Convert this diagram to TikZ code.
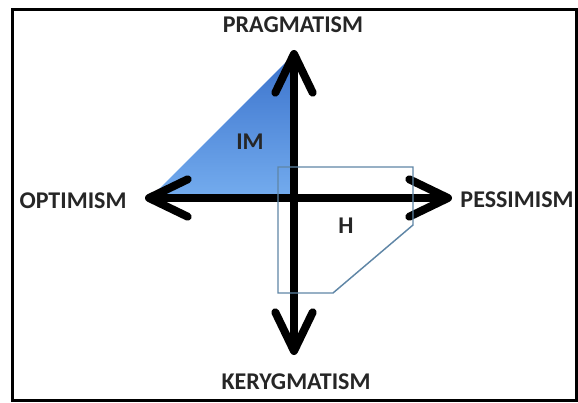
\documentclass[tikz,border=0pt]{standalone}
\usepackage{fontspec}
\setmainfont{Carlito}
\usetikzlibrary{arrows.meta}
\definecolor{imtop}{HTML}{3A72CC}
\definecolor{imbot}{HTML}{74ACEE}
\definecolor{hline}{HTML}{5F86A6}
\begin{document}
\begin{tikzpicture}[x=0.75pt,y=-0.75pt,
  axis/.style={line width=6pt,{Straight Barb[length=29pt,width=28pt,round]}-{Straight Barb[length=29pt,width=28pt,round]}},
  pole/.style={font=\fontsize{18}{20}\selectfont\bfseries,text=black!85,inner sep=0pt},
  zone/.style={font=\fontsize{18}{20}\selectfont\bfseries,text=black!85,inner sep=0pt}]
\useasboundingbox (0,0) rectangle (578,403);
\draw[line width=2.25pt] (12,10) rectangle (576,400);

\coordinate (up) at (294,50);
\coordinate (down) at (294,355);
\coordinate (left) at (145,198);
\coordinate (right) at (452,198);
\coordinate (ctr) at (294,198);

\shade[top color=imtop,bottom color=imbot] (150,198) -- (294,54) -- (ctr) -- cycle;

\draw[axis] (up) -- (down);
\draw[axis] (left) -- (right);

\draw[hline,line width=1.1pt] (278,167) -- (413,167) -- (413,225) -- (333,293) -- (278,293) -- cycle;

\node[pole] (prag) at (293,25) {PRAGMATISM};
\node[pole] (kery) at (296,382) {KERYGMATISM};
\node[pole] (optim) at (73,201) {OPTIMISM};
\node[pole] (pessim) at (517,200) {PESSIMISM};
\node[zone] (im) at (250,142) {IM};
\node[zone] (h) at (346,226) {H};
\end{tikzpicture}
\end{document}
